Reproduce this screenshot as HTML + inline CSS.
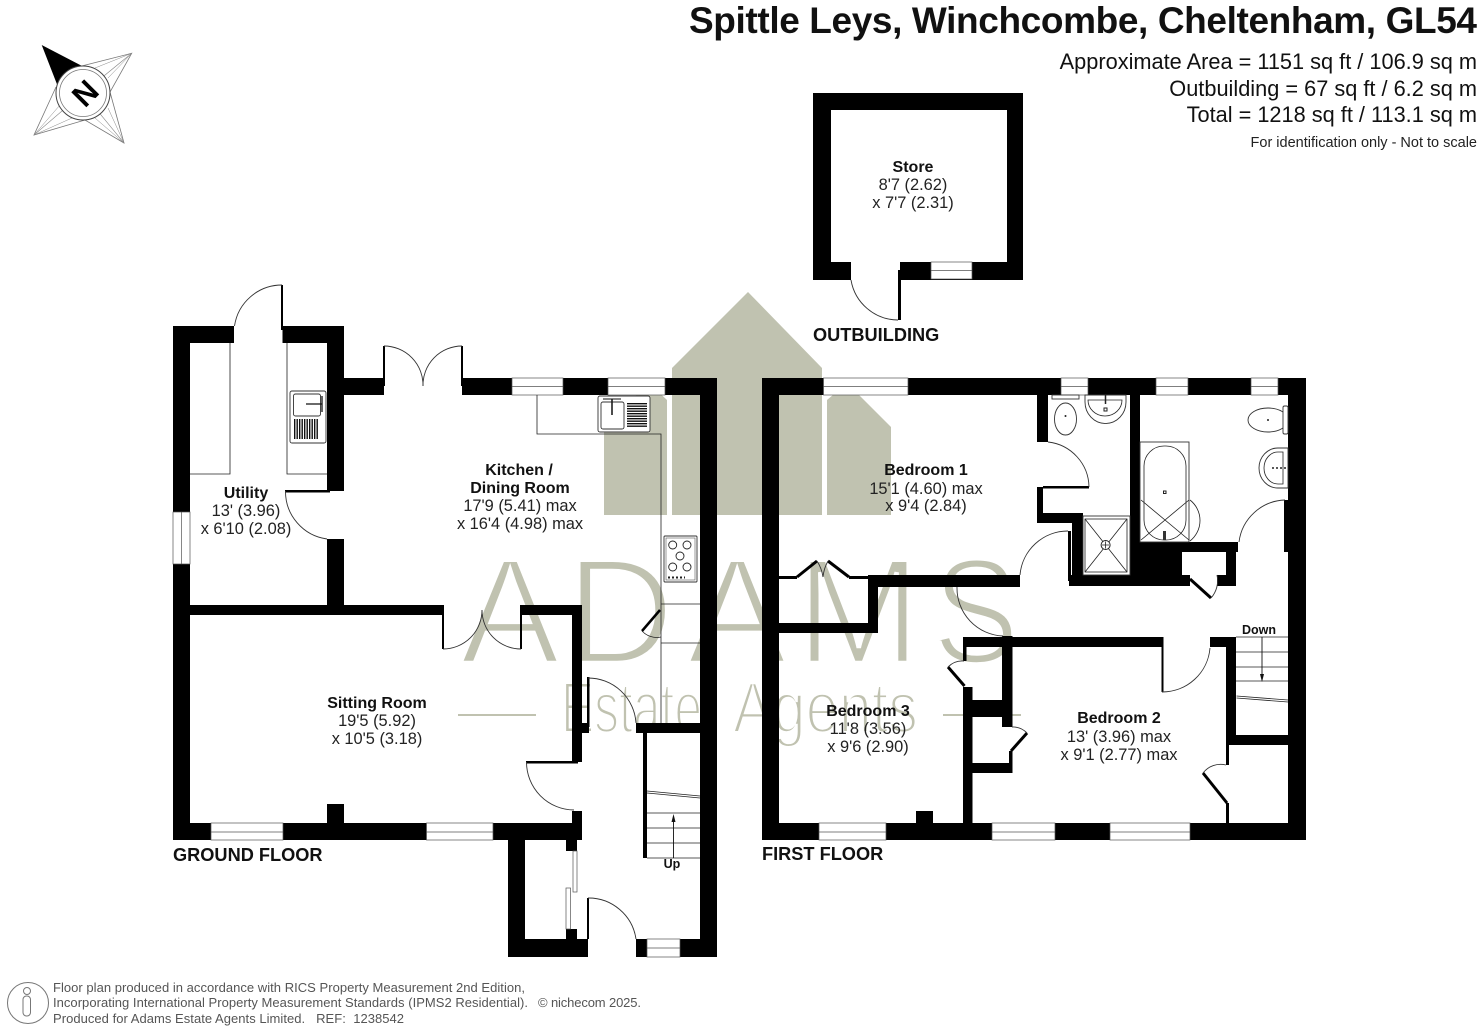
<!DOCTYPE html>
<html><head><meta charset="utf-8"><title>Spittle Leys floor plan</title>
<style>html,body{margin:0;padding:0;background:#fff}svg{display:block}
text{font-family:"Liberation Sans",sans-serif}
.n{font-weight:bold;font-size:16px;text-anchor:middle;fill:#111}
.d{font-size:16.4px;text-anchor:middle;fill:#222}
.f{font-weight:bold;font-size:18.2px;fill:#111}
.a{font-size:21.75px;text-anchor:end;fill:#111}
.s{font-size:13px;fill:#555}
.w{fill:#fff;stroke:#555;stroke-width:.7}
.l{fill:none;stroke:#333;stroke-width:.9}
.t{fill:none;stroke:#222;stroke-width:.8}
.k{fill:none;stroke:#000;stroke-width:3}
.fx{fill:#fff;stroke:#333;stroke-width:.9}
.wm{fill:#c0c2b0}
.wo{fill:none;stroke:#fff}
</style></head><body>
<svg xmlns="http://www.w3.org/2000/svg" width="1480" height="1032" viewBox="0 0 1480 1032">
<rect width="1480" height="1032" fill="#fff"/>
<!-- watermark -->
<g fill="#c0c2b0">
<polygon points="672,368 748,292 822,368 822,515 672,515"/>
<polygon points="604,425 649,383 667,400 667,515 604,515"/>
<polygon points="827,400 847,383 891,427 891,515 827,515"/>
</g>
<g font-size="150">
<text class="wm" x="460 566 687 796" y="663">ADAM</text>
<text class="wo" x="460 566 687 796" y="663" stroke-width="4.5">ADAM</text>
<g transform="translate(933,663) scale(.86,1)"><text class="wm" x="0" y="0">S</text><text class="wo" x="0" y="0" stroke-width="4.5">S</text></g>
</g>
<g font-size="72">
<text class="wm" x="561" y="732.5" textLength="141" lengthAdjust="spacingAndGlyphs">Estate</text>
<text class="wo" x="561" y="732.5" textLength="141" lengthAdjust="spacingAndGlyphs" stroke-width="3">Estate</text>
<text class="wm" x="733" y="732.5" textLength="185" lengthAdjust="spacingAndGlyphs">Agents</text>
<text class="wo" x="733" y="732.5" textLength="185" lengthAdjust="spacingAndGlyphs" stroke-width="3">Agents</text>
</g>
<rect x="458" y="714" width="78" height="2" fill="#c0c2b0"/>
<rect x="943" y="714" width="78" height="2" fill="#c0c2b0"/>

<!-- header -->
<text x="1477" y="33" font-size="37" font-weight="bold" text-anchor="end" textLength="788" fill="#111">Spittle Leys, Winchcombe, Cheltenham, GL54</text>
<text class="a" x="1477" y="69">Approximate Area = 1151 sq ft / 106.9 sq m</text>
<text class="a" x="1477" y="96">Outbuilding = 67 sq ft / 6.2 sq m</text>
<text class="a" x="1477" y="122">Total = 1218 sq ft / 113.1 sq m</text>
<text x="1477" y="147" font-size="14.5" text-anchor="end" fill="#222">For identification only - Not to scale</text>

<!-- compass -->
<g>
<path d="M81.7,66 L131.7,53.3 L110,92 L124,143 L85,120 L34,135 L56,87" fill="#fff" stroke="#777" stroke-width=".8"/>
<path d="M131.7,53.3 L83,93 M124,143 L83,93 M34,135 L83,93" stroke="#888" stroke-width=".6"/>
<path d="M34,135 L72,118 M34,135 L60,105 M131.7,53.3 L95,68 M131.7,53.3 L108,78 M124,143 L108,108 M124,143 L95,118" stroke="#888" stroke-width=".5" fill="none"/>
<polygon points="41.7,45 84,67 60,92" fill="#000"/>
<circle cx="83" cy="93" r="27" fill="#fff" stroke="#444" stroke-width="1"/>
<circle cx="83" cy="93" r="23.5" fill="#fff" stroke="#777" stroke-width=".8"/>
<text x="0" y="0" font-size="31" font-weight="bold" text-anchor="middle" transform="translate(85,93) rotate(-45) translate(0,11)" fill="#000">N</text>
</g>

<!-- STORE -->
<g fill="#000">
<rect x="813" y="93" width="210" height="17"/>
<rect x="813" y="93" width="18" height="187"/>
<rect x="1007" y="93" width="16" height="187"/>
<rect x="813" y="262" width="38" height="18"/>
<rect x="900" y="262" width="123" height="18"/>
<rect x="898" y="270" width="3" height="50"/>
</g>
<rect class="w" x="931" y="262" width="41" height="17"/><line x1="931" y1="270.5" x2="972" y2="270.5" stroke="#555" stroke-width=".7"/>
<path class="l" d="M851,280 A48,48 0 0 0 898,320"/>
<text class="n" x="913" y="172">Store</text><text class="d" x="913" y="190">8'7 (2.62)</text><text class="d" x="913" y="208">x 7'7 (2.31)</text>
<text class="f" x="813" y="341">OUTBUILDING</text>

<!-- GROUND FLOOR walls -->
<g fill="#000">
<rect x="173" y="326" width="17" height="514"/>
<rect x="173" y="326" width="61" height="17"/>
<rect x="282.500" y="326" width="61.500" height="17"/>
<rect x="281" y="285" width="2" height="45"/>
<rect x="327" y="326" width="17" height="165"/>
<rect x="285" y="490" width="45" height="2.500"/>
<rect x="327" y="539" width="17" height="70"/>
<rect x="344" y="378" width="40" height="17"/>
<rect x="383" y="346" width="2" height="40"/>
<rect x="461" y="346" width="2" height="40"/>
<rect x="462" y="378" width="255" height="17"/>
<rect x="700" y="378" width="17" height="579"/>
<rect x="173" y="605" width="270" height="10"/>
<rect x="520" y="605" width="62" height="10"/>
<rect x="442" y="605" width="2" height="44"/>
<rect x="520" y="605" width="2" height="44"/>
<rect x="572" y="605" width="10" height="157"/>
<rect x="526" y="761" width="52" height="2.500"/>
<rect x="572" y="811" width="10" height="29"/>
<rect x="587" y="677" width="2.500" height="50"/>
<rect x="578" y="723" width="11" height="10"/>
<rect x="636" y="723" width="64" height="10"/>
<rect x="643" y="733" width="4" height="125"/>
<rect x="173" y="823" width="409" height="17"/>
<rect x="327" y="804" width="17" height="20"/>
<rect x="508" y="840" width="17" height="117"/>
<rect x="508" y="939" width="80" height="18"/>
<rect x="636" y="939" width="81" height="18"/>
<rect x="566" y="840" width="11" height="11"/>
<rect x="566" y="929" width="11" height="11"/>
<rect x="587" y="898" width="2" height="41"/>
</g>
<!-- ground windows -->
<g>
<rect class="w" x="512" y="378" width="51" height="17"/><rect class="w" x="608" y="378" width="57" height="17"/>
<rect class="w" x="211" y="823" width="72" height="17"/><rect class="w" x="426.500" y="823" width="66.500" height="17"/>
<rect class="w" x="647" y="939" width="33" height="18"/>
<rect class="w" x="173" y="512" width="17" height="52"/>
<path d="M512,386.500H563M608,386.500H665M211,832H283M426.500,832H493M647,948H680M181.500,512V564" stroke="#555" stroke-width=".7" fill="none"/>
<rect class="w" x="573" y="851" width="4" height="41"/><rect class="w" x="566" y="888" width="4.500" height="41"/>
</g>
<!-- ground arcs -->
<g class="l">
<path d="M282,285 A48,48 0 0 0 234.500,326"/>
<path d="M285.500,491 A48,48 0 0 0 327,539"/>
<path d="M384,346 A39,39 0 0 1 423,386"/><path d="M462,346 A39,39 0 0 0 423,386"/>
<path d="M443,649 A39,39 0 0 0 482,610"/><path d="M521,649 A39,39 0 0 1 482,610"/>
<path d="M526.500,762 A48,48 0 0 0 574,810"/>
<path d="M588,678 A48,48 0 0 1 636,723"/>
<path d="M588,898 A48,48 0 0 1 636,939"/>
</g>
<!-- units -->
<g class="t">
<path d="M190,474H230V343M287,343V474H327"/>
<path d="M537,395V434H661V723"/>
<path d="M661,604H700M661,643H700"/>
<path d="M642,631A20,20 0 0 0 661,637"/>
</g>
<line x1="660" y1="610" x2="642" y2="631" stroke="#000" stroke-width="2.500"/>
<!-- kitchen sink -->
<rect class="fx" x="598" y="396" width="52" height="36" rx="2"/>
<rect class="fx" x="601" y="402" width="23" height="27" rx="2"/>
<line x1="637" y1="403" x2="637" y2="428" stroke="#111" stroke-width="20" stroke-dasharray="1.400 1.100"/>
<line x1="612" y1="399" x2="612" y2="415" stroke="#111" stroke-width="1.500"/>
<path d="M603,399H621" stroke="#111" stroke-width="1"/>
<!-- utility sink -->
<rect class="fx" x="290" y="391" width="36" height="52" rx="2"/>
<rect class="fx" x="293.500" y="394" width="27" height="22" rx="2"/>
<line x1="294" y1="429" x2="319" y2="429" stroke="#111" stroke-width="20" stroke-dasharray="1.400 1.100"/>
<path d="M306,404H322M322,396V412" stroke="#111" stroke-width="1.300"/>
<!-- hob -->
<rect class="fx" x="664" y="536" width="33" height="46" rx="1"/>
<rect x="666" y="538" width="29" height="42" fill="none" stroke="#555" stroke-width=".6"/>
<g fill="none" stroke="#222" stroke-width=".9"><circle cx="672.700" cy="545" r="4"/><circle cx="687" cy="545" r="4"/><circle cx="680" cy="556" r="4"/><circle cx="672.700" cy="567" r="4"/><circle cx="687" cy="567" r="4"/></g>
<path d="M668,577.500H685" stroke="#222" stroke-width="2" stroke-dasharray="2 2"/>
<!-- ground stairs -->
<g class="t">
<path d="M647,813H700M647,828H700M647,843H700M647,858H700"/>
<path d="M647,791L700,796M647,793L700,798"/>
</g>
<path d="M673.500,858V817" stroke="#111" stroke-width=".9"/><polygon points="673.500,814 671.500,822 675.500,822" fill="#111"/>
<text x="672" y="868" font-size="12.500" font-weight="bold" text-anchor="middle" fill="#111">Up</text>

<text class="n" x="246" y="498">Utility</text><text class="d" x="246" y="516">13' (3.96)</text><text class="d" x="246" y="534">x 6'10 (2.08)</text>
<text class="n" x="519" y="475">Kitchen /</text><text class="n" x="520" y="493">Dining Room</text><text class="d" x="520" y="511">17'9 (5.41) max</text><text class="d" x="520" y="529">x 16'4 (4.98) max</text>
<text class="n" x="377" y="708">Sitting Room</text><text class="d" x="377" y="726">19'5 (5.92)</text><text class="d" x="377" y="744">x 10'5 (3.18)</text>
<text class="f" x="173" y="861">GROUND FLOOR</text>

<!-- FIRST FLOOR walls -->
<g fill="#000">
<rect x="762" y="378" width="544" height="17"/>
<rect x="762" y="378" width="17" height="462"/>
<rect x="1288" y="378" width="18" height="462"/>
<rect x="1284" y="500" width="4" height="52"/>
<rect x="762" y="823" width="544" height="17"/>
<rect x="916" y="811" width="17" height="12"/>
<rect x="1037" y="395" width="11" height="47"/>
<rect x="1043" y="486" width="46" height="2.500"/>
<rect x="1037" y="487" width="6" height="36"/>
<rect x="1037" y="513" width="46" height="10"/>
<rect x="1072" y="513" width="11" height="73"/>
<rect x="1068" y="531" width="3" height="50"/>
<rect x="1069" y="575" width="121" height="11"/>
<rect x="1130" y="395" width="10" height="147"/>
<rect x="1130" y="542" width="108" height="10"/>
<rect x="1130" y="542" width="52" height="44"/>
<rect x="1226" y="542" width="10" height="44"/>
<rect x="1217" y="575" width="19" height="11"/>
<rect x="868" y="575" width="152" height="12"/>
<rect x="779" y="576" width="18" height="3"/>
<rect x="849" y="576" width="20" height="3"/>
<rect x="868" y="575" width="10" height="58"/>
<rect x="779" y="623" width="99" height="10"/>
<rect x="963" y="637" width="199" height="10"/>
<rect x="1161.500" y="637" width="2" height="55"/>
<rect x="1210" y="637" width="26" height="10"/>
<rect x="1226" y="637" width="10" height="108"/>
<rect x="1226" y="735" width="62" height="10"/>
<rect x="1226" y="745" width="3" height="20"/>
<rect x="1226" y="803" width="3" height="20"/>
<rect x="963" y="637" width="3.500" height="24"/>
<rect x="963" y="687" width="9.500" height="136"/>
<rect x="963" y="700" width="49.500" height="17"/>
<rect x="1002" y="636" width="10.500" height="91"/>
<rect x="1009" y="717" width="3.500" height="10"/>
<rect x="1009" y="751" width="3.500" height="22"/>
<rect x="972" y="763" width="40.500" height="10"/>
</g>
<!-- first floor windows -->
<g>
<rect class="w" x="823.500" y="378" width="84.500" height="17"/><rect class="w" x="1061" y="378" width="27" height="17"/>
<rect class="w" x="1156" y="378" width="32" height="17"/><rect class="w" x="1251" y="378" width="27" height="17"/>
<rect class="w" x="819" y="823" width="67" height="17"/><rect class="w" x="992" y="823" width="63" height="17"/><rect class="w" x="1110" y="823" width="80" height="17"/>
<path d="M823.500,386.500H908M1061,386.500H1088M1156,386.500H1188M1251,386.500H1278M819,832H886M992,832H1055M1110,832H1190" stroke="#555" stroke-width=".7" fill="none"/>
</g>
<!-- first floor thick doors -->
<g class="k">
<path d="M797,577L817,561M828,561L849,577"/>
<path d="M1190,579L1211,598"/>
<path d="M948,667L964.500,686"/>
<path d="M1027,733L1011,751"/>
<path d="M1203,773L1227,803"/>
</g>
<g class="l">
<path d="M817,561A40,40 0 0 1 823,577"/><path d="M828,561A40,40 0 0 0 823,577"/>
<path d="M1048,442 A46,46 0 0 1 1089,487"/>
<path d="M1020,575 A48,48 0 0 1 1068,531"/>
<path d="M957,587 A48,48 0 0 0 1003,636"/>
<path d="M1239,542 A48,48 0 0 1 1285,500"/>
<path d="M1211,598 A26,26 0 0 0 1217,575"/>
<path d="M948,667 A20,20 0 0 1 964,661"/>
<path d="M1012,727 A20,20 0 0 1 1027,733"/>
<path d="M1203,773 A22,22 0 0 1 1226,765"/>
<path d="M1162,692 A48,48 0 0 0 1210,648"/>
</g>
<!-- ensuite fixtures -->
<rect class="fx" x="1052" y="395" width="27" height="4"/>
<ellipse class="fx" cx="1065.500" cy="419" rx="11" ry="16"/><circle cx="1065.500" cy="416" r="1" fill="#222"/>
<path class="fx" d="M1085,395H1126V402A20,21 0 0 1 1085,402Z"/><path class="t" d="M1088,400H1122A17,16 0 0 1 1088,400Z"/>
<rect x="1104" y="408" width="3" height="3" fill="none" stroke="#222"/>
<path d="M1105.500,395V404" stroke="#222" stroke-width="1.500"/>
<rect class="fx" x="1083" y="516" width="47" height="59"/>
<rect class="t" x="1085" y="519" width="42" height="53"/>
<path class="t" d="M1085,519L1127,572M1127,519L1085,572"/>
<circle cx="1105.600" cy="545" r="4.500" fill="#fff" stroke="#222"/><path d="M1102,545H1109M1105.600,541.500V548.500" stroke="#222" stroke-width=".8"/>
<!-- bath -->
<rect class="fx" x="1140" y="442" width="49" height="100"/>
<rect class="t" x="1144" y="446" width="42" height="94" rx="20"/>
<path class="t" d="M1141,500L1189,540M1189,500L1141,540"/>
<path class="t" d="M1190,500A26,26 0 0 1 1190,541"/>
<rect x="1163.500" y="491" width="2.500" height="2.500" fill="none" stroke="#222"/>
<rect x="1163" y="531" width="3" height="9" fill="#333"/>
<!-- bathroom wc + basin -->
<ellipse class="fx" cx="1268" cy="420" rx="20" ry="12"/><circle cx="1268" cy="420" r="1" fill="#222"/>
<rect class="fx" x="1283" y="406" width="5" height="28" rx="1.500"/>
<path class="fx" d="M1288,448H1278A19,20 0 0 0 1278,488H1288Z"/><path class="t" d="M1283,452H1278A14,16 0 0 0 1278,484H1283Z"/>
<path d="M1272,468H1286" stroke="#222" stroke-width="1.600" stroke-dasharray="2 2"/>
<!-- first stairs -->
<g class="t">
<path d="M1236,637H1288M1236,652H1288M1236,667H1288M1236,681H1288"/>
<path d="M1236.500,696L1288,700M1236.500,698L1288,702"/>
</g>
<path d="M1262,637V678" stroke="#111" stroke-width=".9"/><polygon points="1262,682 1260,674 1264,674" fill="#111"/>
<text x="1259" y="634" font-size="12.500" font-weight="bold" text-anchor="middle" fill="#111">Down</text>

<text class="n" x="926" y="475">Bedroom 1</text><text class="d" x="926" y="494">15'1 (4.60) max</text><text class="d" x="926" y="511">x 9'4 (2.84)</text>
<text class="n" x="868" y="716">Bedroom 3</text><text class="d" x="868" y="734">11'8 (3.56)</text><text class="d" x="868" y="752">x 9'6 (2.90)</text>
<text class="n" x="1119" y="723">Bedroom 2</text><text class="d" x="1119" y="742">13' (3.96) max</text><text class="d" x="1119" y="760">x 9'1 (2.77) max</text>
<text class="f" x="762" y="860">FIRST FLOOR</text>

<!-- footer -->
<circle cx="28" cy="1003" r="20.500" fill="none" stroke="#777" stroke-width="1"/>
<circle cx="27" cy="991" r="3.500" fill="none" stroke="#777"/>
<rect x="23" y="996" width="7.500" height="20" rx="3.500" fill="none" stroke="#777"/>
<text class="s" x="53" y="992" textLength="472">Floor plan produced in accordance with RICS Property Measurement 2nd Edition,</text>
<text class="s" x="53" y="1007" textLength="475">Incorporating International Property Measurement Standards (IPMS2 Residential).</text>
<text class="s" x="53" y="1023" textLength="351">Produced for Adams Estate Agents Limited.&#160;&#160; REF:&#160; 1238542</text>
<text class="s" x="538" y="1007" textLength="103">© nichecom 2025.</text>
</svg>
</body></html>
